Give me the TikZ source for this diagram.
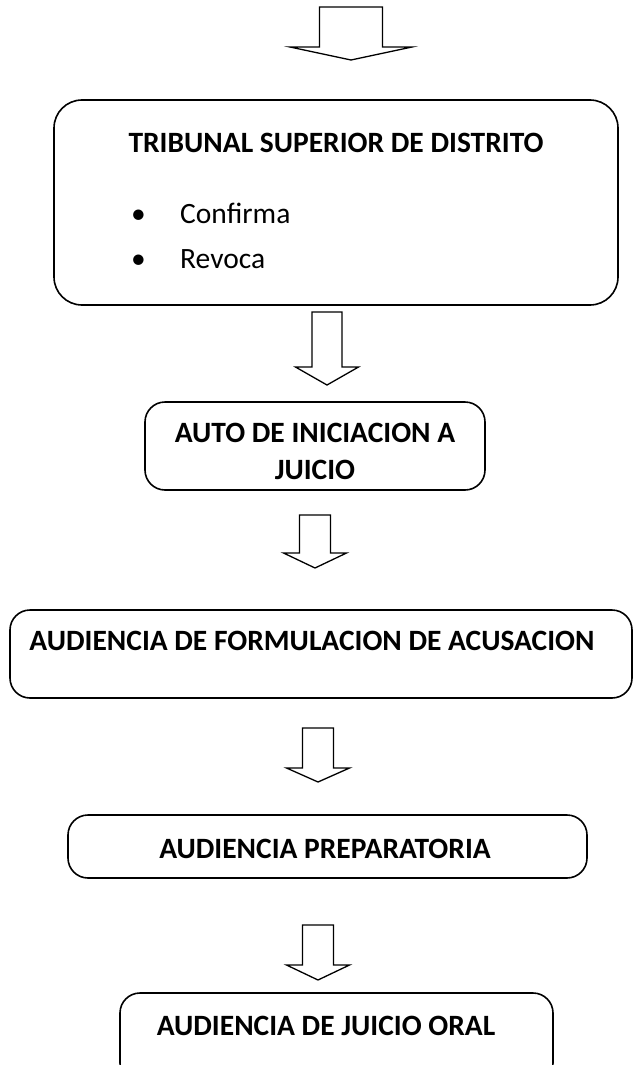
\documentclass[tikz,border=0pt]{standalone}
\usepackage{fontspec}
\setmainfont{Carlito}
\usetikzlibrary{positioning}

\tikzset{
  box/.style={draw, line width=1.6pt, rounded corners=20pt, inner sep=0pt},
  title/.style={font=\fontsize{29.5}{38}\selectfont\bfseries, inner sep=0pt, align=center},
  item/.style={font=\fontsize{29.5}{38}\selectfont, inner sep=0pt},
  blockarrow/.style={draw, line width=1.3pt, line join=miter}
}
% centre x, shaft top, head y, tip y, shaft half width, head half width
\newcommand{\blockdown}[6]{%
  \draw[blockarrow] (#1-#5,#2) -- (#1+#5,#2) -- (#1+#5,#3) -- (#1+#6,#3) -- (#1,#4)
    -- (#1-#6,#3) -- (#1-#5,#3) -- cycle;
}

\begin{document}
\begin{tikzpicture}[x=1pt, y=-1pt]
    \useasboundingbox (0,0) rectangle (634,1065);
    \clip (0,0) rectangle (634,1065);

    \blockdown{351}{7}{47}{60}{31.5}{61}

    \node[box, rounded corners=28pt, minimum width=564, minimum height=205] (tribunal) at (336,202.5) {};
    \node[title, anchor=base] (tribunal-title) at (336,152) {TRIBUNAL SUPERIOR DE DISTRITO};
    \node[item, anchor=base west] (confirma) at (131,223) {\makebox[49pt][l]{\textbullet}Confirma};
    \node[item, anchor=base west] (revoca) at (131,268) {\makebox[49pt][l]{\textbullet}Revoca};

    \blockdown{327}{312}{367}{385}{15}{31.5}

    \node[box, minimum width=340, minimum height=88] (auto) at (315,446) {};
    \node[title, anchor=base] (auto-title) at (315,442) {AUTO DE INICIACION A};
    \node[title, anchor=base] (auto-title2) at (315,479) {JUICIO};

    \blockdown{315}{515}{553}{568}{15.5}{31.5}

    \node[box, minimum width=622, minimum height=88] (formulacion) at (321,654) {};
    \node[title, anchor=base] (formulacion-title) at (312,650) {AUDIENCIA DE FORMULACION DE ACUSACION};

    \blockdown{318}{728}{768}{782}{15.5}{31.5}

    \node[box, minimum width=519, minimum height=63] (preparatoria) at (327.5,846.5) {};
    \node[title, anchor=base] (preparatoria-title) at (325,858) {AUDIENCIA PREPARATORIA};

    \blockdown{318}{925}{965}{980}{15.5}{31.5}

    \node[box, minimum width=433, minimum height=90] (oral) at (336.5,1038) {};
    \node[title, anchor=base] (oral-title) at (326,1035) {AUDIENCIA DE JUICIO ORAL};
\end{tikzpicture}
\end{document}
